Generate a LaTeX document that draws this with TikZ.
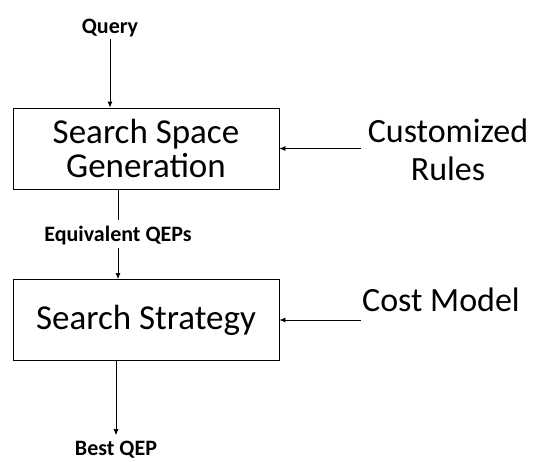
\documentclass[tikz,border=0pt]{standalone}
\usepackage{fontspec}
\setmainfont{Carlito}
\usepackage{tikz}
\usetikzlibrary{arrows.meta,positioning,calc}

\tikzset{
  stagebox/.style={draw,thick,minimum width=266pt,minimum height=81pt,font=\fontsize{35}{34}\selectfont,align=center,inner sep=0pt},
  flowlabel/.style={font=\fontsize{22}{26}\selectfont\bfseries,inner sep=2pt},
  sidelabel/.style={font=\fontsize{34}{38}\selectfont,align=center,inner sep=0pt},
  flow/.style={-{Latex[length=6pt,width=5pt]},line width=0.8pt}
}

\begin{document}
\begin{tikzpicture}[x=1pt,y=-1pt]
\useasboundingbox (0,0) rectangle (536,461);
\node[flowlabel] (query) at (110,28) {Query};
\node[stagebox] (gen) at (146,148.5) {Search Space\\Generation};
\node[sidelabel] (rules) at (448,150) {Customized\\Rules};
\node[flowlabel] (equiv) at (118,236) {Equivalent QEPs};
\node[stagebox] (strat) at (146,320) {Search Strategy};
\node[sidelabel] (cost) at (441,300) {Cost Model};
\node[flowlabel] (best) at (116,450) {Best QEP};

\draw[flow] (query.south) -- (query |- gen.north);
\draw[flow,shorten <=7pt] (gen.east -| rules.west) -- (gen.east);
\draw[line width=0.8pt,shorten >=4pt] (equiv |- gen.south) -- (equiv.north);
\draw[flow] (equiv.south) -- (equiv |- strat.north);
\draw[flow,shorten <=1pt] (strat.east -| cost.west) -- (strat.east);
\draw[flow,shorten >=4pt] (best |- strat.south) -- (best.north);
\end{tikzpicture}
\end{document}
